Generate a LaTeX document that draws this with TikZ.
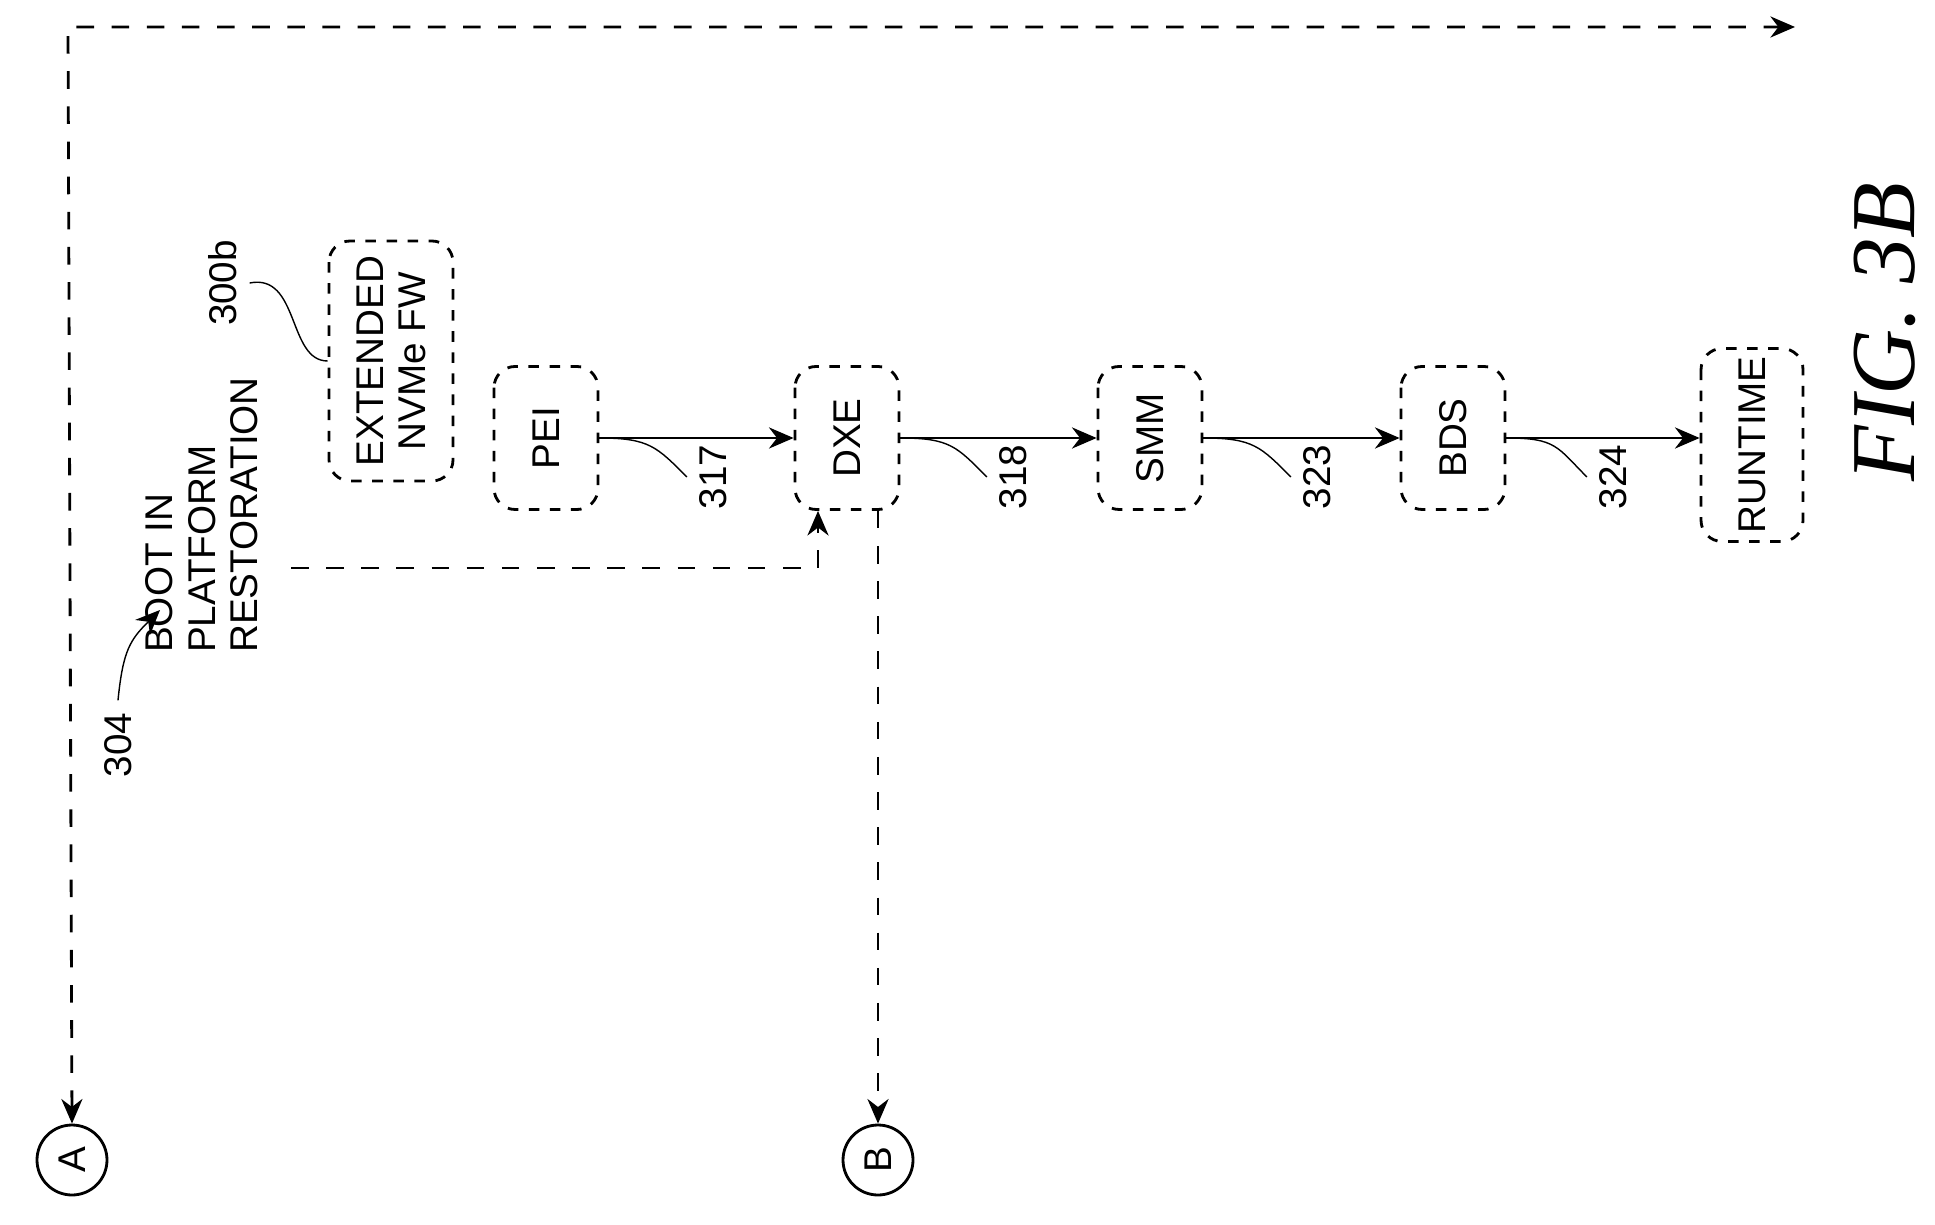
\documentclass[tikz,border=0pt]{standalone}
\usepackage{fontspec}
\setmainfont{Liberation Sans}
\newfontfamily\figfont{Liberation Serif}
\usetikzlibrary{arrows.meta, positioning, calc}
\tikzset{>={Stealth[length=7pt,width=6pt]}, font=\fontsize{11}{12}\selectfont,
  phase/.style={rectangle, rounded corners=6pt, draw, dashed, thick, rotate=90,
    minimum width=1.43cm, minimum height=1.04cm, inner sep=2pt},
  ref/.style={rotate=90},
  flow/.style={->, thick},
  loop/.style={->, thick, dash pattern=on 5pt off 5pt},
  leader/.style={thin}}

\begin{document}
\begin{tikzpicture}
\useasboundingbox (0,0) rectangle (19.35,-12.25);
% phases
\node (ext) [phase, minimum width=2.4cm, minimum height=1.24cm, align=center] at (3.91,-3.61) {EXTENDED\\NVMe FW};
\node (pei) [phase] at (5.46,-4.38) {PEI};
\node (dxe) [phase] at (8.47,-4.38) {DXE};
\node (smm) [phase] at (11.5,-4.38) {SMM};
\node (bds) [phase] at (14.53,-4.38) {BDS};
\node (runtime) [phase, minimum width=1.93cm, minimum height=1.02cm] at (17.52,-4.45) {RUNTIME};
% connectors
\node (ca) [circle, draw, thick, minimum size=0.7cm] at (0.72,-11.6) {\rotatebox{90}{A}};
\node (cb) [circle, draw, thick, minimum size=0.7cm] at (8.78,-11.6) {\rotatebox{90}{B}};
\node (boot) [ref, align=left, anchor=south] at (2.7,-5.15) {BOOT IN\\PLATFORM\\RESTORATION};
\coordinate (tl) at (0.68,-0.27);
\coordinate (tr) at (17.95,-0.27);
\coordinate (bend) at (8.18,-5.68);
\coordinate (bstart) at (2.91,-5.68);

\draw[flow] (pei) -- (dxe);
\draw[flow] (dxe) -- (smm);
\draw[flow] (smm) -- (bds);
\draw[flow] (bds.south) -- (bds.south -| runtime.north);

\draw[loop, <->] (ca.north) -- (tl) -- (tr);
\draw[loop] (bstart) -- (bend) -- (bend |- dxe.west);
\draw[loop] (dxe.west -| cb) -- (cb.north);

% reference numerals
\node (n304) [ref] at (1.18,-7.45) {304};
\node (n300b) [ref] at (2.23,-2.83) {300b};
\node (n317) [ref] at (7.13,-4.77) {317};
\node (n318) [ref] at (10.13,-4.77) {318};
\node (n323) [ref] at (13.17,-4.77) {323};
\node (n324) [ref] at (16.13,-4.77) {324};
\draw[leader, ->] (n304.east) .. controls +(0.05,0.5) and +(-0.3,-0.3) .. (1.6,-6.1);
\draw[leader] (n300b.south) .. controls +(0.5,0.1) and +(-0.4,0) .. (ext.north);
\draw[leader] (pei.south) .. controls +(0.5,0) and +(-0.3,0.3) .. (n317.north);
\draw[leader] (dxe.south) .. controls +(0.5,0) and +(-0.3,0.3) .. (n318.north);
\draw[leader] (smm.south) .. controls +(0.5,0) and +(-0.3,0.3) .. (n323.north);
\draw[leader] (bds.south) .. controls +(0.5,0) and +(-0.3,0.3) .. (n324.north);

\node (fig) [rotate=90, font=\figfont\itshape\fontsize{26}{28}\selectfont] at (18.85,-3.32) {FIG. 3B};
\end{tikzpicture}
\end{document}
